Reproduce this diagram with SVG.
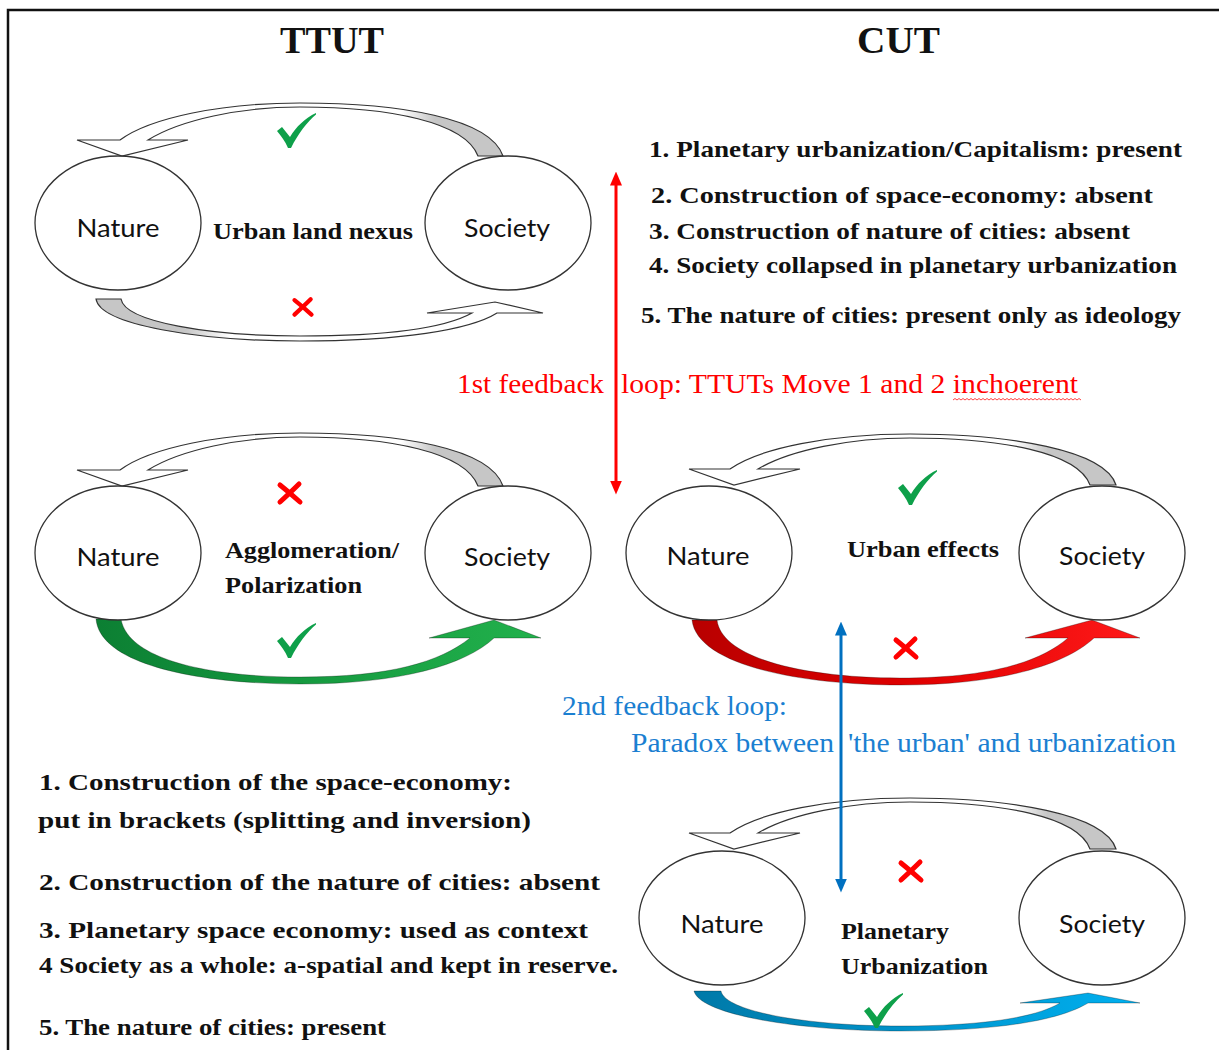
<svg xmlns="http://www.w3.org/2000/svg" width="1219" height="1050" viewBox="0 0 1219 1050">
  <style>
    .frame{fill:none;stroke:#111;stroke-width:2.5}
    .circ{fill:#fff;stroke:#333;stroke-width:1.3}
    .lbl{font-family:Lato,"Liberation Sans",sans-serif;font-size:25px;fill:#111;text-anchor:middle}
    .core{font-family:"Liberation Serif","Times New Roman",serif;font-weight:bold;font-size:24px;fill:#111}
    .title{font-family:"Liberation Serif","Times New Roman",serif;font-weight:bold;font-size:38px;fill:#111}
    .list{font-family:"Liberation Serif","Times New Roman",serif;font-weight:bold;font-size:23px;fill:#111}
    .list2{font-family:"Liberation Serif","Times New Roman",serif;font-weight:bold;font-size:24px;fill:#111}
    .note-red{font-family:"Liberation Serif","Times New Roman",serif;font-size:27px;fill:#ff0000}
    .note-blue{font-family:"Liberation Serif","Times New Roman",serif;font-size:27px;fill:#1b7fd1}
    .band{stroke:#333;stroke-width:1.2;stroke-linejoin:miter}
    .cband{stroke:rgba(0,0,0,0.35);stroke-width:0.8}
    .tick{fill:#0ea04a}
    .cross{fill:none;stroke:#ff0000;stroke-width:5;stroke-linecap:round}
  </style>
  <defs>
    <linearGradient id="gTop" x1="0" y1="0" x2="1" y2="0">
      <stop offset="0" stop-color="#fff"/>
      <stop offset="0.76" stop-color="#fff"/>
      <stop offset="0.84" stop-color="#c6c6c6"/>
      <stop offset="1" stop-color="#c6c6c6"/>
    </linearGradient>
    <linearGradient id="gBot" x1="0" y1="0" x2="1" y2="0">
      <stop offset="0" stop-color="#c6c6c6"/>
      <stop offset="0.2" stop-color="#c6c6c6"/>
      <stop offset="0.3" stop-color="#fff"/>
      <stop offset="1" stop-color="#fff"/>
    </linearGradient>
    <linearGradient id="gGreen" x1="0" y1="0" x2="1" y2="0">
      <stop offset="0" stop-color="#0c7f33"/>
      <stop offset="0.45" stop-color="#15993f"/>
      <stop offset="1" stop-color="#22b14c"/>
    </linearGradient>
    <linearGradient id="gRed" x1="0" y1="0" x2="1" y2="0">
      <stop offset="0" stop-color="#b80000"/>
      <stop offset="0.5" stop-color="#e00000"/>
      <stop offset="1" stop-color="#ff1a1a"/>
    </linearGradient>
    <linearGradient id="gBlue" x1="0" y1="0" x2="1" y2="0">
      <stop offset="0" stop-color="#0079a8"/>
      <stop offset="0.5" stop-color="#0094cc"/>
      <stop offset="1" stop-color="#00b0f0"/>
    </linearGradient>
    <!-- upper curved arrow of the left loops (Society back to Nature) -->
    <path id="topL" d="M503,156 C490,118 400,103 300,103 C220,103 150,118 120,140 L77,140 L122,156 L188,140 L148,140 C180,120 240,107 300,107 C390,107 465,122 478,156 Z"/>
    <!-- upper curved arrow of the right loops -->
    <path id="topR" d="M1116,485 C1105,450 1010,434 910,434 C830,434 760,448 730,469 L689,469 L734,485 L800,469 L758,469 C790,450 850,438 910,438 C1000,438 1078,452 1090,485 Z"/>
    <path id="tick" d="M0,18 L5,14 L13,24 C19,14 28,5 39,0 L39,1.5 C30,9 21,21 14,35 L11,35 C8,28 4,23 0,18 Z"/>
    <path id="cross" d="M-10,-8 Q0,0 10,9 M9,-9 Q2,-2 -10,9"/>
    <marker id="headRed" markerUnits="userSpaceOnUse" markerWidth="14" markerHeight="12" refX="1.5" refY="6" orient="auto-start-reverse">
      <path d="M0,0 L14,6 L0,12 Z" fill="#ff0000"/>
    </marker>
    <marker id="headBlue" markerUnits="userSpaceOnUse" markerWidth="14" markerHeight="12" refX="1.5" refY="6" orient="auto-start-reverse">
      <path d="M0,0 L14,6 L0,12 Z" fill="#0070c0"/>
    </marker>
  </defs>

  <rect width="1219" height="1050" fill="#fff"/>
  <path class="frame" d="M8,1050 L8,10 L1219,10"/>

  <!-- column headings -->
  <text class="title" x="280" y="53" textLength="104" lengthAdjust="spacingAndGlyphs">TTUT</text>
  <text class="title" x="857" y="53" textLength="83" lengthAdjust="spacingAndGlyphs">CUT</text>

  <!-- curved loop arrows and feedback arrows -->
  <g id="connectors">
    <!-- loop 1 -->
    <use href="#topL" class="band" fill="url(#gTop)"/>
    <path class="band" fill="url(#gBot)" d="M96,299 C100,325 200,341 300,341 C400,341 470,330 497,313 L543,313 L495,302 L427,313 L472,313 C445,328 390,336 300,336 C210,336 125,322 121,299 Z"/>
    <!-- loop 2 -->
    <use href="#topL" class="band" fill="url(#gTop)" transform="translate(0,330)"/>
    <path class="cband" fill="url(#gGreen)" d="M96,619 C100,665 200,684 300,684 C400,684 465,665 494,638 L541,638 L494,620 L429,638 L470,638 C440,662 390,677 300,677 C210,677 128,660 121,619 Z"/>
    <!-- loop 3 -->
    <use href="#topR" class="band" fill="url(#gTop)"/>
    <path class="cband" fill="url(#gRed)" d="M692,620 C697,665 800,685 900,685 C1000,685 1065,665 1094,638 L1140,638 L1092,620 L1025,638 L1068,638 C1040,662 990,678 900,678 C810,678 722,660 717,620 Z"/>
    <!-- loop 4 -->
    <use href="#topR" class="band" fill="url(#gTop)" transform="translate(0,364)"/>
    <path class="cband" fill="url(#gBlue)" d="M694,991 C700,1015 800,1031 900,1031 C1000,1031 1060,1020 1088,1003 L1140,1003 L1088,993 L1020,1003 L1060,1003 C1035,1018 980,1026 900,1026 C810,1026 725,1012 721,991 Z"/>
    <!-- feedback loops -->
    <line x1="616" y1="184" x2="616" y2="482" stroke="#ff0000" stroke-width="3" marker-start="url(#headRed)" marker-end="url(#headRed)"/>
    <line x1="841" y1="634" x2="841" y2="880" stroke="#0070c0" stroke-width="3" marker-start="url(#headBlue)" marker-end="url(#headBlue)"/>
  </g>

  <!-- loop 1: urban land nexus -->
  <g id="nature-1"><ellipse class="circ" cx="118" cy="223" rx="83" ry="67"/><text class="lbl" x="118" y="237" textLength="83" lengthAdjust="spacingAndGlyphs">Nature</text></g>
  <g id="society-1"><ellipse class="circ" cx="508" cy="223" rx="83" ry="67"/><text class="lbl" x="507" y="237" textLength="86" lengthAdjust="spacingAndGlyphs">Society</text></g>
  <g id="core-1">
    <text class="core" x="213" y="239" textLength="200" lengthAdjust="spacingAndGlyphs">Urban land nexus</text>
    <use href="#tick" class="tick" transform="translate(277,113)"/>
    <use href="#cross" class="cross" transform="translate(303,307) scale(0.85)"/>
  </g>

  <!-- loop 2: agglomeration / polarization -->
  <g id="nature-2"><ellipse class="circ" cx="118" cy="553" rx="83" ry="67"/><text class="lbl" x="118" y="566" textLength="83" lengthAdjust="spacingAndGlyphs">Nature</text></g>
  <g id="society-2"><ellipse class="circ" cx="508" cy="553" rx="83" ry="67"/><text class="lbl" x="507" y="566" textLength="86" lengthAdjust="spacingAndGlyphs">Society</text></g>
  <g id="core-2">
    <text class="core" x="225" y="558" textLength="174" lengthAdjust="spacingAndGlyphs">Agglomeration/</text>
    <text class="core" x="225" y="593" textLength="137" lengthAdjust="spacingAndGlyphs">Polarization</text>
    <use href="#cross" class="cross" transform="translate(290,493)"/>
    <use href="#tick" class="tick" transform="translate(277,623)"/>
  </g>

  <!-- loop 3: urban effects -->
  <g id="nature-3"><ellipse class="circ" cx="709" cy="553" rx="83" ry="67"/><text class="lbl" x="708" y="565" textLength="83" lengthAdjust="spacingAndGlyphs">Nature</text></g>
  <g id="society-3"><ellipse class="circ" cx="1102" cy="553" rx="83" ry="67"/><text class="lbl" x="1102" y="565" textLength="86" lengthAdjust="spacingAndGlyphs">Society</text></g>
  <g id="core-3">
    <text class="core" x="847" y="557" textLength="152" lengthAdjust="spacingAndGlyphs">Urban effects</text>
    <use href="#tick" class="tick" transform="translate(898,470)"/>
    <use href="#cross" class="cross" transform="translate(906,648)"/>
  </g>

  <!-- loop 4: planetary urbanization -->
  <g id="nature-4"><ellipse class="circ" cx="722" cy="918" rx="83" ry="67"/><text class="lbl" x="722" y="933" textLength="83" lengthAdjust="spacingAndGlyphs">Nature</text></g>
  <g id="society-4"><ellipse class="circ" cx="1102" cy="918" rx="83" ry="67"/><text class="lbl" x="1102" y="933" textLength="86" lengthAdjust="spacingAndGlyphs">Society</text></g>
  <g id="core-4">
    <text class="core" x="841" y="939" textLength="108" lengthAdjust="spacingAndGlyphs">Planetary</text>
    <text class="core" x="841" y="974" textLength="147" lengthAdjust="spacingAndGlyphs">Urbanization</text>
    <use href="#cross" class="cross" transform="translate(911,871)"/>
    <use href="#tick" class="tick" transform="translate(864,993)"/>
  </g>

  <!-- CUT claims -->
  <g id="cut-list">
    <text class="list" x="649" y="157" textLength="533" lengthAdjust="spacingAndGlyphs">1. Planetary urbanization/Capitalism: present</text>
    <text class="list" x="651" y="203" textLength="502" lengthAdjust="spacingAndGlyphs">2. Construction of space-economy: absent</text>
    <text class="list" x="649" y="239" textLength="481" lengthAdjust="spacingAndGlyphs">3. Construction of nature of cities: absent</text>
    <text class="list" x="649" y="273" textLength="528" lengthAdjust="spacingAndGlyphs">4. Society collapsed in planetary urbanization</text>
    <text class="list" x="641" y="323" textLength="540" lengthAdjust="spacingAndGlyphs">5. The nature of cities: present only as ideology</text>
  </g>

  <!-- feedback loop notes (split where the vertical arrows pass) -->
  <g id="feedback-1">
    <text class="note-red" x="457" y="393" textLength="147" lengthAdjust="spacingAndGlyphs">1st feedback</text>
    <text class="note-red" x="621" y="393" textLength="457" lengthAdjust="spacingAndGlyphs">loop: TTUTs Move 1 and 2 inchoerent</text>
    <!-- spelling squiggle under the last word -->
    <path fill="none" stroke="#ff3030" stroke-width="0.9" d="M953,400 l2,-1.5 l2,1.5 l2,-1.5 l2,1.5 l2,-1.5 l2,1.5 l2,-1.5 l2,1.5 l2,-1.5 l2,1.5 l2,-1.5 l2,1.5 l2,-1.5 l2,1.5 l2,-1.5 l2,1.5 l2,-1.5 l2,1.5 l2,-1.5 l2,1.5 l2,-1.5 l2,1.5 l2,-1.5 l2,1.5 l2,-1.5 l2,1.5 l2,-1.5 l2,1.5 l2,-1.5 l2,1.5 l2,-1.5 l2,1.5 l2,-1.5 l2,1.5 l2,-1.5 l2,1.5 l2,-1.5 l2,1.5 l2,-1.5 l2,1.5 l2,-1.5 l2,1.5 l2,-1.5 l2,1.5 l2,-1.5 l2,1.5 l2,-1.5 l2,1.5 l2,-1.5 l2,1.5 l2,-1.5 l2,1.5 l2,-1.5 l2,1.5 l2,-1.5 l2,1.5 l2,-1.5 l2,1.5 l2,-1.5 l2,1.5 l2,-1.5 l2,1.5 l2,-1.5 l2,1.5"/>
  </g>
  <g id="feedback-2">
    <text class="note-blue" x="562" y="715" textLength="225" lengthAdjust="spacingAndGlyphs">2nd feedback loop:</text>
    <text class="note-blue" x="631" y="752" textLength="203" lengthAdjust="spacingAndGlyphs">Paradox between</text>
    <text class="note-blue" x="848" y="752" textLength="328" lengthAdjust="spacingAndGlyphs">'the urban' and urbanization</text>
  </g>

  <!-- TTUT claims -->
  <g id="ttut-list">
    <text class="list2" x="39" y="790" textLength="473" lengthAdjust="spacingAndGlyphs">1. Construction of the space-economy:</text>
    <text class="list2" x="38" y="828" textLength="493" lengthAdjust="spacingAndGlyphs">put in brackets (splitting and inversion)</text>
    <text class="list2" x="39" y="890" textLength="561" lengthAdjust="spacingAndGlyphs">2. Construction of the nature of cities: absent</text>
    <text class="list2" x="39" y="938" textLength="549" lengthAdjust="spacingAndGlyphs">3. Planetary space economy: used as context</text>
    <text class="list2" x="39" y="973" textLength="579" lengthAdjust="spacingAndGlyphs">4 Society as a whole: a-spatial and kept in reserve.</text>
    <text class="list2" x="39" y="1035" textLength="347" lengthAdjust="spacingAndGlyphs">5. The nature of cities: present</text>
  </g>
</svg>
